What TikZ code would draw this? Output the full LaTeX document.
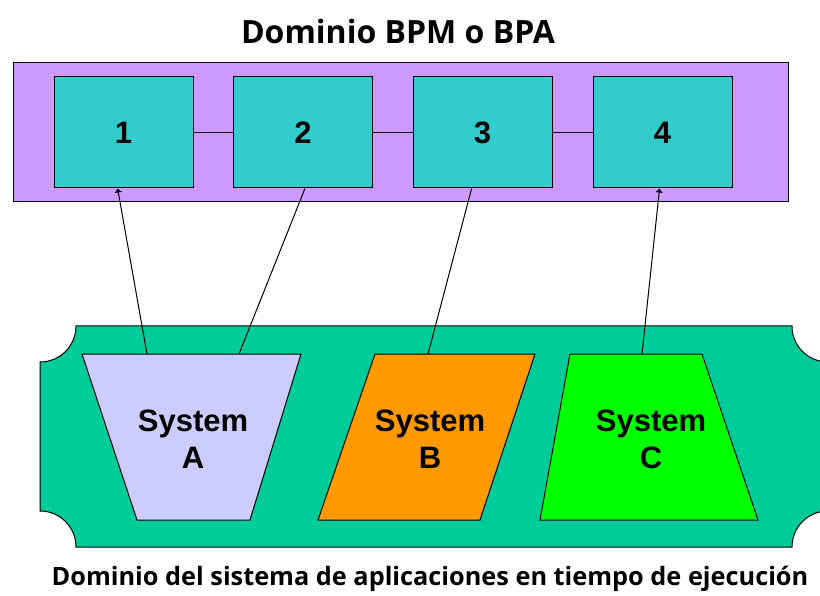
\documentclass[tikz,border=0pt]{standalone}
\usepackage{fontspec}
\setmainfont{Liberation Sans}
\newfontfamily\titulofont{Open Sans}
\usetikzlibrary{arrows.meta}

\definecolor{morado}{HTML}{CC99FF}
\definecolor{turquesa}{HTML}{33CCCC}
\definecolor{verdemar}{HTML}{00CC99}
\definecolor{lavanda}{HTML}{CCCCFF}
\definecolor{naranja}{HTML}{FF9900}
\definecolor{lima}{HTML}{00FF00}

\begin{document}
\begin{tikzpicture}[x=1pt, y=-1pt, line width=1pt, font=\fontsize{31}{37}\selectfont\bfseries, -{Latex[length=4pt,width=8pt]}]
	\useasboundingbox (0,0) rectangle (820,596);
      \tikzstyle{paso} = [draw, fill=turquesa, minimum width=139pt, minimum height=111pt, inner sep=0pt]
      \tikzstyle{sistema} = [draw, -, line join=miter]
      \tikzstyle{etiqueta} = [align=center, inner sep=0pt]
      % dominio BPM
      \node (titulo) at (398,32) {\titulofont\fontsize{32}{35}\selectfont Dominio BPM o BPA};
      \draw[sistema, fill=morado] (13,63) rectangle (788,202);
      \node (uno) at (123.5,132.5) [paso] {1};
      \node (dos) at (303,132.5) [paso] {2};
      \node (tres) at (482.5,132.5) [paso] {3};
      \node (cuatro) at (662.5,132.5) [paso] {4};
      \draw[-] (uno) -- (dos);
      \draw[-] (dos) -- (tres);
      \draw[-] (tres) -- (cuatro);
      % dominio de aplicaciones
      \draw[sistema, fill=verdemar] (76,326) -- (792,326) .. controls (792,346) and (808,362) .. (828,362)
        -- (828,511) .. controls (808,511) and (792,527) .. (792,547) -- (76,547)
        .. controls (76,527) and (60,511) .. (40,511) -- (40,362)
        .. controls (60,362) and (76,346) .. (76,326) -- cycle;
      \draw[sistema, fill=lavanda] (82,354) -- (301,354) -- (250,520) -- (137,520) -- cycle;
      \draw[sistema, fill=naranja] (375,354) -- (535,354) -- (480,520) -- (318,520) -- cycle;
      \draw[sistema, fill=lima] (570,354) -- (702,354) -- (758,520) -- (540,520) -- cycle;
      \node (sysA) at (193,439) [etiqueta] {System\\A};
      \node (sysB) at (430,439) [etiqueta] {System\\B};
      \node (sysC) at (651,439) [etiqueta] {System\\C};
      \coordinate (salidaA1) at (147,354);
      \coordinate (salidaA2) at (239,354);
      \coordinate (salidaB) at (428,354);
      \coordinate (salidaC) at (642,354);
      \draw (salidaA1) -- (uno.-96);
      \draw[-] (salidaA2) -- (dos.-88);
      \draw[-] (salidaB) -- (tres.-101);
      \draw (salidaC) -- (cuatro.-93);
      \node (pie) at (430,579) {\titulofont\fontsize{25.3}{28}\selectfont Dominio del sistema de aplicaciones en tiempo de ejecución};
    \end{tikzpicture}
\end{document}
